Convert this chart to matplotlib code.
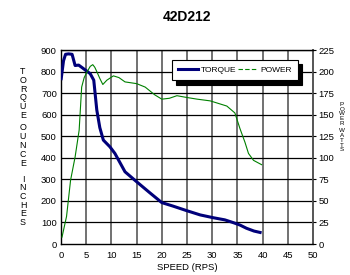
import matplotlib
matplotlib.use("Agg")
import matplotlib.pyplot as plt
from matplotlib.lines import Line2D

plt.rcParams['font.family'] = ['Liberation Sans', 'DejaVu Sans']

title = "42D212"
torque_speed = [0, 0.5, 0.9, 1.5, 2.2, 2.8, 3.5, 4.2, 5.0, 5.8, 6.5, 7.1, 7.7, 8.4, 9.7, 10.7, 12.7, 15.0, 17.5, 20.0, 22.2, 24.9, 27.6, 30.2, 32.5, 34.2, 35.5, 36.8, 38.3, 39.8]
torque_vals = [760, 850, 880, 882, 880, 828, 830, 818, 804, 790, 760, 622, 540, 482, 451, 420, 335, 289, 240, 192, 176, 155, 135, 122, 112, 99, 88, 73, 60, 52]
power_speed = [0.2, 1.1, 1.9, 2.8, 3.6, 4.1, 4.6, 5.2, 5.8, 6.3, 6.7, 7.1, 7.7, 8.3, 9.1, 10.4, 11.5, 12.7, 15.0, 16.7, 18.6, 20.0, 21.5, 23.0, 24.9, 27.0, 29.6, 32.9, 34.5, 35.5, 36.5, 37.2, 38.2, 39.8]
power_vals = [8, 32, 74, 101, 132, 182, 193, 200, 206, 208, 205, 200, 192, 185, 190, 195, 193, 188, 186, 182, 173, 168, 169, 172, 170, 168, 166, 160, 152, 134, 118, 105, 97, 92]
x_ticks = [0, 5, 10, 15, 20, 25, 30, 35, 40, 45, 50]
left_ticks = [0, 100, 200, 300, 400, 500, 600, 700, 800, 900]
right_ticks = [0, 25, 50, 75, 100, 125, 150, 175, 200, 225]

fig = plt.figure(figsize=(3.5, 2.75), dpi=100)
W, H = 350, 275
ax = fig.add_axes([61 / W, 1 - 244 / H, (313 - 61) / W, (244 - 50) / H])
ax.set_xlim(0, 50)
ax.set_ylim(0, 900)
ax.set_xticks(x_ticks)
ax.set_yticks(left_ticks)
for x in x_ticks[1:-1]:
    ax.axvline(x, color='#4a4a4a', lw=1.1, zorder=1)
for y in left_ticks[1:]:
    ax.axhline(y, color='black', lw=0.9, zorder=1)
for s in ax.spines.values():
    s.set_color('black')
    s.set_linewidth(1.0)
ax.spines['right'].set_color('#555555')
ax.spines['right'].set_linewidth(1.4)
ax.tick_params(axis='both', length=0, labelsize=6.8, pad=3)
ax.tick_params(axis='x', pad=5)

ax.plot(torque_speed, torque_vals, color='#00007a', lw=2.2, zorder=4, solid_capstyle='butt')

ax2 = ax.twinx()
ax2.set_ylim(0, 225)
ax2.set_yticks(right_ticks)
ax2.tick_params(axis='y', length=2, labelsize=6.8, pad=2)
for s in ax2.spines.values():
    s.set_visible(False)
ax2.plot(power_speed, power_vals, color='#008000', lw=0.8, zorder=3)

ax.set_xlabel("SPEED (RPS)", fontsize=6.8, labelpad=2)
fig.text(187 / W, 1 - 17 / H, title, ha='center', va='center', fontsize=10, fontweight='bold')

def stacked(x, y0, word, step, size):
    for i, ch in enumerate(word):
        fig.text(x / W, 1 - (y0 + i * step) / H, ch, ha='center', va='center', fontsize=size)

stacked(23, 71.6, "TORQUE", 8.7, 6.4)
stacked(23, 128, "OUNCE", 8.9, 6.4)
stacked(23, 179, "INCHES", 8.7, 6.4)
stacked(342, 104.5, "POWER", 4.7, 4.5)
stacked(342, 131, "WATTS", 4.7, 4.5)

handles = [Line2D([], [], color='#00007a', lw=2.2),
           Line2D([], [], color='#008000', lw=0.8, ls=(0, (4, 2)))]
leg = ax.legend(handles, ["TORQUE", "POWER"], ncol=2, loc='upper left',
                bbox_to_anchor=(172 / W, 1 - 80 / H, 126 / W, 20 / H),
                bbox_transform=fig.transFigure, mode='expand', borderaxespad=0,
                fontsize=6, frameon=True, fancybox=False, handlelength=2.4,
                handletextpad=0.3, columnspacing=1.6, borderpad=0.75,
                shadow={'ox': 3, 'oy': -3, 'color': 'black', 'alpha': 1})
leg.get_frame().set_edgecolor('black')
leg.get_frame().set_linewidth(0.8)
leg.set_zorder(10)

fig.savefig("out.png", dpi=100)
